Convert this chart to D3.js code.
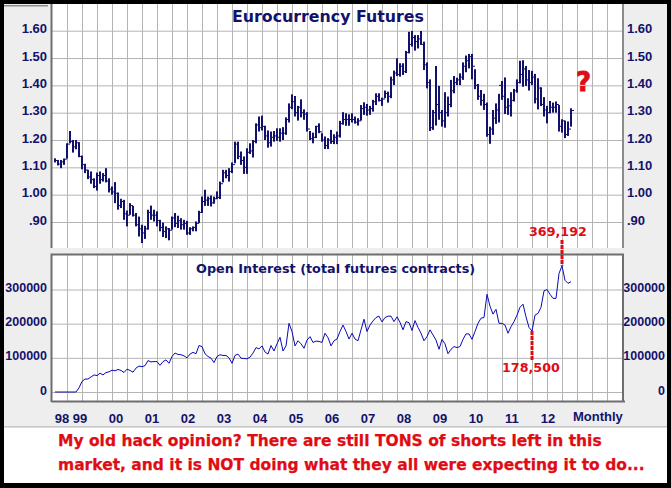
<!DOCTYPE html>
<html>
<head>
<meta charset="utf-8">
<script src="https://d3js.org/d3.v7.min.js"></script>
<style>
  html, body { margin: 0; padding: 0; background: #000; }
  svg { display: block; }
  text { font-family: "Liberation Sans", Arial, sans-serif; }
  .wide { font-family: "DejaVu Sans", Verdana, sans-serif; font-weight: bold; }
</style>
</head>
<body>
<div id="chart-area"></div>
<script>
// monthly bars, first one is Sep 1998
var highs = [
  1.133,1.127,1.127,1.132,1.188,1.233,1.20,1.20,1.192,1.143,
  1.113,1.091,1.085,1.06,1.081,1.085,1.079,1.097,1.06,1.03,
  1.046,1.008,0.985,0.981,0.942,0.969,0.959,0.933,0.92,0.89,
  0.886,0.945,0.96,0.945,0.939,0.908,0.898,0.884,0.878,0.92,
  0.933,0.923,0.914,0.908,0.904,0.881,0.884,0.902,0.941,0.993,
  1.018,0.993,0.997,0.993,1.012,1.048,1.091,1.091,1.097,1.118,
  1.194,1.194,1.158,1.14,1.17,1.188,1.2,1.261,1.286,1.289,
  1.252,1.235,1.231,1.233,1.243,1.243,1.247,1.283,1.334,1.367,
  1.361,1.325,1.349,1.312,1.302,1.233,1.227,1.252,1.261,1.225,
  1.213,1.207,1.237,1.221,1.231,1.27,1.302,1.298,1.294,1.298,
  1.286,1.28,1.328,1.338,1.332,1.325,1.347,1.371,1.371,1.355,
  1.381,1.377,1.432,1.454,1.499,1.481,1.481,1.526,1.596,1.599,
  1.584,1.584,1.599,1.56,1.484,1.422,1.31,1.471,1.398,1.31,
  1.375,1.359,1.42,1.434,1.428,1.444,1.484,1.509,1.515,1.515,
  1.459,1.405,1.383,1.369,1.337,1.249,1.31,1.334,1.369,1.416,
  1.429,1.353,1.375,1.387,1.422,1.49,1.492,1.471,1.456,1.453,
  1.442,1.426,1.393,1.357,1.325,1.343,1.337,1.341,1.328,1.276,
  1.271,1.268,1.316];
var lows = [
  1.118,1.107,1.097,1.109,1.132,1.188,1.154,1.166,1.137,1.093,
  1.079,1.057,1.04,1.024,1.015,1.04,1.048,1.045,1.008,1.0,
  0.969,0.945,0.951,0.908,0.884,0.926,0.92,0.884,0.847,0.823,
  0.838,0.872,0.908,0.902,0.884,0.866,0.845,0.841,0.833,0.872,
  0.881,0.878,0.872,0.872,0.853,0.853,0.866,0.866,0.896,0.933,
  0.959,0.959,0.957,0.967,0.984,0.984,1.045,1.06,1.048,1.079,
  1.115,1.13,1.109,1.076,1.076,1.149,1.136,1.188,1.231,1.235,
  1.2,1.172,1.176,1.194,1.197,1.194,1.2,1.219,1.264,1.313,
  1.286,1.271,1.283,1.274,1.231,1.2,1.188,1.207,1.225,1.194,
  1.167,1.167,1.186,1.185,1.185,1.209,1.256,1.252,1.252,1.264,
  1.26,1.253,1.271,1.292,1.289,1.292,1.304,1.328,1.341,1.325,
  1.353,1.337,1.353,1.401,1.434,1.432,1.438,1.445,1.517,1.542,
  1.527,1.535,1.548,1.456,1.389,1.233,1.237,1.253,1.274,1.249,
  1.245,1.286,1.32,1.371,1.401,1.401,1.42,1.448,1.462,1.422,
  1.386,1.347,1.326,1.31,1.212,1.186,1.219,1.259,1.264,1.347,
  1.295,1.292,1.286,1.341,1.373,1.407,1.395,1.398,1.381,1.401,
  1.334,1.312,1.324,1.286,1.261,1.298,1.3,1.3,1.231,1.227,
  1.207,1.215,1.249];
var closes = [
  1.125,1.112,1.12,1.13,1.185,1.195,1.175,1.19,1.14,1.11,
  1.09,1.065,1.055,1.03,1.07,1.055,1.07,1.05,1.02,1.01,
  1.005,0.96,0.975,0.93,0.925,0.96,0.925,0.89,0.875,0.86,
  0.875,0.935,0.925,0.925,0.905,0.88,0.865,0.875,0.87,0.915,
  0.895,0.905,0.89,0.895,0.86,0.875,0.88,0.895,0.935,0.975,
  0.98,0.985,0.97,0.985,0.99,1.04,1.08,1.07,1.085,1.11,
  1.185,1.14,1.125,1.10,1.155,1.16,1.195,1.255,1.245,1.25,
  1.215,1.19,1.21,1.215,1.21,1.225,1.225,1.275,1.32,1.34,
  1.30,1.32,1.30,1.295,1.24,1.205,1.21,1.25,1.23,1.20,
  1.18,1.20,1.195,1.21,1.215,1.26,1.275,1.275,1.275,1.275,
  1.265,1.27,1.315,1.32,1.31,1.315,1.34,1.36,1.345,1.35,
  1.37,1.36,1.42,1.445,1.44,1.47,1.45,1.52,1.55,1.575,
  1.56,1.57,1.55,1.475,1.41,1.245,1.30,1.33,1.30,1.27,
  1.30,1.33,1.38,1.41,1.42,1.43,1.47,1.49,1.505,1.47,
  1.40,1.36,1.345,1.33,1.22,1.24,1.28,1.31,1.40,1.36,
  1.32,1.325,1.345,1.38,1.41,1.44,1.46,1.42,1.41,1.43,
  1.35,1.39,1.33,1.31,1.30,1.32,1.32,1.33,1.25,1.27,
  1.22,1.24,1.308];
var openInterest = [
  0,0,0,0,0,0,0,0,12000,31000,
  38000,38000,44000,50000,48000,55000,50000,57000,59000,64000,
  62000,66000,63000,57000,67000,63000,58000,70000,76000,74000,
  77000,92000,88000,89000,89000,78000,89000,94000,84000,104000,
  114000,110000,109000,106000,100000,111000,116000,112000,136000,133000,
  112000,104000,99000,86000,104000,109000,107000,107000,100000,84000,
  107000,111000,99000,98000,97000,102000,114000,130000,126000,135000,
  117000,111000,136000,120000,141000,160000,120000,135000,201000,177000,
  135000,150000,141000,128000,152000,162000,145000,149000,148000,145000,
  172000,159000,135000,150000,155000,177000,196000,177000,155000,172000,
  155000,150000,182000,213000,177000,196000,208000,218000,222000,205000,
  218000,222000,222000,206000,220000,204000,182000,206000,203000,180000,
  209000,189000,172000,150000,162000,182000,167000,152000,125000,154000,
  141000,112000,125000,133000,130000,133000,154000,170000,170000,154000,
  177000,201000,216000,218000,286000,251000,228000,242000,201000,201000,
  196000,172000,191000,206000,225000,248000,257000,220000,189000,178500,
  225000,230000,248000,296000,300000,286000,274000,274000,347000,369192,
  327000,318000,323000];

var priceTicks = [0.9, 1.0, 1.1, 1.2, 1.3, 1.4, 1.5, 1.6];
var priceLabels = [".90", "1.00", "1.10", "1.20", "1.30", "1.40", "1.50", "1.60"];
var oiTicks = [0, 100000, 200000, 300000];
var yearLabels = ["98", "99", "00", "01", "02", "03", "04", "05", "06", "07", "08", "09", "10", "11", "12"];
var yearLabelMonths = [2.3, 8.3, 20.3, 32.3, 44.3, 56.3, 68.3, 80.3, 92.3, 104.3, 116.3, 128.3, 140.3, 152.3, 164.3];
var gridMonths = d3.range(4, 189, 5);
var lowMonth = 159, peakMonth = 169;

var navy = "#12126c", red = "#e00c14", gridColor = "#b4b4b4", frame = "#6e6e6e";

var svg = d3.select("#chart-area").append("svg")
  .attr("width", 671)
  .attr("height", 488);

// page pieces
svg.append("rect").attr("x", 4).attr("y", 4).attr("width", 663).attr("height", 424).attr("fill", "#eeeeee");
svg.append("rect").attr("x", 4).attr("y", 428).attr("width", 663).attr("height", 55).attr("fill", "#fff");
svg.append("rect").attr("x", 4).attr("y", 426).attr("width", 663).attr("height", 1.5).attr("fill", "#c8c8c8");
svg.append("rect").attr("x", 4).attr("y", 5).attr("width", 44).attr("height", 1.5).attr("fill", "#8c8c8c");

var left = 52, right = 623;
var x = d3.scaleLinear().domain([-1, 189.33]).range([left, right]);
var yPrice = d3.scaleLinear().domain([0.9, 1.6]).range([222, 30.7]);
var yOI = d3.scaleLinear().domain([0, 300000]).range([392, 289.5]);

function panel(top, bottom, yScale, ticks) {
  svg.append("rect").attr("x", left).attr("y", top).attr("width", right - left).attr("height", bottom - top).attr("fill", "#fff");
  var g = svg.append("g");
  // grid drawn with the axes, ticks stretched across the panel
  g.append("g")
    .attr("transform", "translate(0," + bottom + ")")
    .call(d3.axisBottom(x).tickValues(gridMonths).tickSize(top - bottom).tickFormat(""))
    .call(function(a) { a.select(".domain").remove(); a.selectAll("line").attr("stroke", gridColor); });
  g.append("g")
    .attr("transform", "translate(" + left + ",0)")
    .call(d3.axisRight(yScale).tickValues(ticks).tickSize(right - left).tickFormat(""))
    .call(function(a) { a.select(".domain").remove(); a.selectAll("line").attr("stroke", gridColor); });
}

function yLabels(scale, ticks, fmt, xPos, anchor, size) {
  var axis = anchor == "end" ? d3.axisLeft(scale) : d3.axisRight(scale);
  svg.append("g")
    .attr("transform", "translate(" + xPos + ",-2)") // labels sit a little above their grid line
    .call(axis.tickValues(ticks).tickSize(0).tickPadding(0).tickFormat(fmt))
    .call(function(a) {
      a.select(".domain").remove();
      a.selectAll("text")
        .attr("fill", navy)
        .attr("font-size", size)
        .attr("font-weight", "bold")
        .attr("font-family", "Liberation Sans");
    });
}

panel(4, 248, yPrice, priceTicks);
panel(255, 401, yOI, oiTicks);

// panel frames
svg.append("path").attr("d", "M51.5,4V248").attr("stroke", frame).attr("stroke-width", 2);
svg.append("path").attr("d", "M51.5,402V254.5H623V402").attr("stroke", frame).attr("stroke-width", 2).attr("fill", "none");
svg.append("path").attr("d", "M51.5,401.5H625").attr("stroke", frame).attr("stroke-width", 2);
svg.append("path").attr("d", "M623,4V248").attr("stroke", "#8c8c8c").attr("stroke-width", 2);

// price bars
var bars = svg.append("g").attr("stroke", navy);
bars.selectAll(".hl").data(highs).enter().append("line")
  .attr("class", "hl")
  .attr("x1", function(d, i) { return x(i); })
  .attr("x2", function(d, i) { return x(i); })
  .attr("y1", function(d) { return yPrice(d); })
  .attr("y2", function(d, i) { return yPrice(lows[i]); })
  .attr("stroke-width", 2);
bars.selectAll(".cl").data(closes).enter().append("line")
  .attr("class", "cl")
  .attr("x1", function(d, i) { return x(i); })
  .attr("x2", function(d, i) { return x(i) + 3; })
  .attr("y1", function(d) { return yPrice(d); })
  .attr("y2", function(d) { return yPrice(d); })
  .attr("stroke-width", 1);

// open interest line
var line = d3.line()
  .x(function(d, i) { return x(i); })
  .y(function(d) { return yOI(d); });
svg.append("path")
  .datum(openInterest)
  .attr("d", line)
  .attr("fill", "none")
  .attr("stroke", "#0a0ab4")
  .attr("stroke-width", 1);

// value labels on both sides
function priceFmt(d, i) { return priceLabels[i]; }
yLabels(yPrice, priceTicks, priceFmt, 47, "end", 13);
yLabels(yPrice, priceTicks, priceFmt, 627, "start", 13);
yLabels(yOI, oiTicks, d3.format("d"), 47, "end", 12.5);
yLabels(yOI, oiTicks, d3.format("d"), 665, "end", 12.5);

// years
svg.append("g")
  .selectAll("text").data(yearLabels).enter().append("text")
  .attr("x", function(d, i) { return x(yearLabelMonths[i]); })
  .attr("y", 423)
  .attr("text-anchor", "middle")
  .attr("font-size", 13)
  .attr("font-weight", "bold")
  .attr("fill", navy)
  .text(function(d) { return d; });
svg.append("text").attr("x", 573).attr("y", 421).attr("font-size", 13).attr("font-weight", "bold").attr("fill", navy).text("Monthly");

// titles
svg.append("text").attr("class", "wide").attr("x", 232).attr("y", 22).attr("font-size", 15.8).attr("fill", navy).text("Eurocurrency Futures");
svg.append("text").attr("class", "wide").attr("x", 196).attr("y", 273).attr("font-size", 12.8).attr("fill", navy).text("Open Interest (total futures contracts)");

// callouts
svg.append("line")
  .attr("x1", x(peakMonth)).attr("x2", x(peakMonth))
  .attr("y1", 240).attr("y2", yOI(openInterest[peakMonth]))
  .attr("stroke", red).attr("stroke-width", 3).attr("stroke-dasharray", "4,1");
svg.append("line")
  .attr("x1", x(lowMonth)).attr("x2", x(lowMonth))
  .attr("y1", yOI(openInterest[lowMonth])).attr("y2", 360)
  .attr("stroke", red).attr("stroke-width", 3).attr("stroke-dasharray", "4,1");
svg.append("text").attr("class", "wide").attr("x", 529).attr("y", 236).attr("font-size", 12.7).attr("fill", red).text("369,192");
svg.append("text").attr("class", "wide").attr("x", 502).attr("y", 372).attr("font-size", 12.7).attr("fill", red).text("178,500");
svg.append("text").attr("class", "wide").attr("x", 576).attr("y", 91).attr("font-size", 26).attr("fill", red).attr("stroke", red).attr("stroke-width", 0.8).text("?");

// comment under the chart
svg.append("text").attr("class", "wide").attr("x", 58).attr("y", 446).attr("font-size", 15.5).attr("fill", red).attr("stroke", red).attr("stroke-width", 0.25)
  .text("My old hack opinion? There are still TONS of shorts left in this");
svg.append("text").attr("class", "wide").attr("x", 58).attr("y", 470).attr("font-size", 15.5).attr("fill", red).attr("stroke", red).attr("stroke-width", 0.25)
  .text("market, and it is NOT doing what they all were expecting it to do...");
</script>
</body>
</html>
